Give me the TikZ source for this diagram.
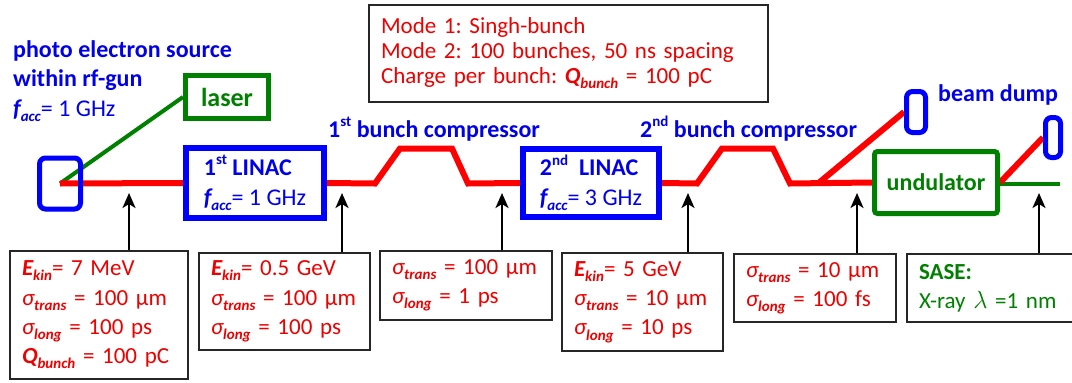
\documentclass[tikz,border=0pt]{standalone}
\usepackage{fontspec}
\setmainfont{Carlito}
\usetikzlibrary{arrows.meta,backgrounds}
\frenchspacing
\definecolor{tred}{RGB}{238,0,0}
\definecolor{tblue}{RGB}{0,0,235}
\definecolor{tgreen}{RGB}{0,128,0}
\newcommand{\bsub}[1]{\raisebox{-0.22em}{\fontsize{15}{15}\selectfont\bfseries\itshape #1}}
\newcommand{\bsup}[1]{\raisebox{0.42em}{\fontsize{15}{15}\selectfont #1}}
\newcommand{\Ekin}{{\bfseries\itshape E}\bsub{kin}}
\newcommand{\strans}{{\itshape σ}\bsub{trans}}
\newcommand{\slong}{{\itshape σ}\bsub{long}}
\newcommand{\Qbun}{{\bfseries\itshape Q}\bsub{bunch}}
\newcommand{\facc}{{\bfseries\itshape f}\bsub{acc}}
\begin{document}
\begin{tikzpicture}[x=1pt,y=-1pt,
  font=\fontsize{23}{29.3}\selectfont,
  linacbox/.style={draw=blue, line width=6pt, inner sep=0pt, text=tblue, align=left, font=\fontsize{24}{30}\selectfont},
  dumpbox/.style={draw=blue, line width=5pt, rounded corners=6pt, inner sep=0pt},
  grnbox/.style={draw=tgreen, line width=5pt, inner sep=0pt, text=tgreen, font=\fontsize{24}{29.3}\selectfont\bfseries},
  infobox/.style={draw=black!85, line width=2pt, inner xsep=12pt, inner ysep=0pt, align=left, text=tred, anchor=north west},
  beam/.style={red, line width=6pt},
  laserline/.style={tgreen, line width=4pt},
  arr/.style={line width=2.5pt, -{Stealth[length=15pt,width=13pt,inset=4pt]}},
  lbl/.style={text=tblue, font=\fontsize{24}{29.3}\selectfont\bfseries, inner sep=0pt, anchor=base west, align=left}
]
\useasboundingbox (0,0) rectangle (1072,383);

% labels
\node[lbl] (src) at (13,116) {photo electron source\\within rf-gun\\{\mdseries\facc= 1 GHz}};
\node[lbl] (bc1) at (328,137) {1\bsup{st} bunch compressor};
\node[lbl] (bc2) at (640,137) {2\bsup{nd} bunch compressor};
\node[lbl] (bd) at (938,101) {beam dump};

% top info box
\node[infobox, text width=375pt, minimum height=97pt, font=\fontsize{23}{25}\selectfont] (modes) at (368,4)
  {Mode 1: Singh-bunch\\Mode 2: 100~bunches, 50~ns~spacing\\Charge per bunch: \Qbun{} = 100~pC};

% machine elements
\node[dumpbox, minimum width=41pt, minimum height=51pt] (gun) at (60,183.5) {};
\node[grnbox, minimum width=83pt, minimum height=43pt, font=\fontsize{26}{30}\selectfont\bfseries] (laser) at (227,97) {laser};
\node[linacbox, minimum width=138pt, minimum height=70pt] (linac1) at (255,183)
  {{\bfseries 1\bsup{st} LINAC}\\\facc= 1 GHz};
\node[linacbox, minimum width=136pt, minimum height=68pt] (linac2) at (591,183)
  {{\bfseries 2\bsup{nd}\ \ LINAC}\\\facc= 3 GHz};
\node[grnbox, rounded corners=3pt, minimum width=123pt, minimum height=62pt] (und) at (936,182.5) {undulator};
\node[dumpbox, minimum width=19pt, minimum height=41pt] (dump1) at (916,112) {};
\node[dumpbox, minimum width=15pt, minimum height=40pt] (dump2) at (1053,137.5) {};

\coordinate (split) at (818,183.5);
\coordinate (xray) at (1060,183.5);

\begin{scope}[on background layer]
  \fill[white] (0,0) rectangle (1072,383);
  \draw[laserline] (gun.center) -- (laser.west);
  \draw[beam] (gun.center) -- (linac1.west);
  \draw[beam] (linac1.east) -- (375,183.5) -- (400,148.5) -- (452,148.5) -- (468,183.5) -- (linac2.west);
  \draw[beam] (linac2.east) -- (697,183.5) -- (722,148.5) -- (773,148.5) -- (790,183.5) -- (und.west);
  \draw[beam] (split) -- (dump1.west);
  \draw[laserline] (und.east |- xray) -- (xray);
  \draw[beam] (und.east) -- (dump2.west);
\end{scope}

% parameter boxes
\node[infobox, text width=154pt, minimum height=128pt] (p1) at (9,250)
  {\Ekin= 7~MeV\\\strans{}~=~100~µm\\\slong{}~=~100~ps\\\Qbun{}~=~100~pC};
\node[infobox, text width=147pt, minimum height=97pt] (p2) at (198,252)
  {\Ekin= 0.5~GeV\\\strans{}~=~100~µm\\\slong{}~=~100~ps};
\node[infobox, text width=148pt, minimum height=69pt] (p3) at (379,250)
  {\strans{}~=~100~µm\\\slong{}~=~1~ps};
\node[infobox, text width=137pt, minimum height=98pt] (p4) at (561,252)
  {\Ekin= 5~GeV\\\strans{}~=~10~µm\\\slong{}~=~10~ps};
\node[infobox, text width=138pt, minimum height=68pt] (p5) at (733,253)
  {\strans{}~=~10~µm\\\slong{}~=~100~fs};
\node[infobox, text width=146pt, minimum height=68pt, text=tgreen] (p6) at (906,253)
  {{\bfseries SASE:}\\X-ray~$\lambda$~=1~nm};

% arrows
\coordinate (a1) at (129,193);
\coordinate (a2) at (342,193);
\coordinate (a3) at (502,193);
\coordinate (a4) at (688,193);
\coordinate (a5) at (857,193);
\coordinate (a6) at (1039,193);
\draw[arr] (p1.north -| a1) -- (a1);
\draw[arr] (p2.north -| a2) -- (a2);
\draw[arr] (p3.north -| a3) -- (a3);
\draw[arr] (p4.north -| a4) -- (a4);
\draw[arr] (p5.north -| a5) -- (a5);
\draw[arr] (p6.north -| a6) -- (a6);
\end{tikzpicture}
\end{document}
